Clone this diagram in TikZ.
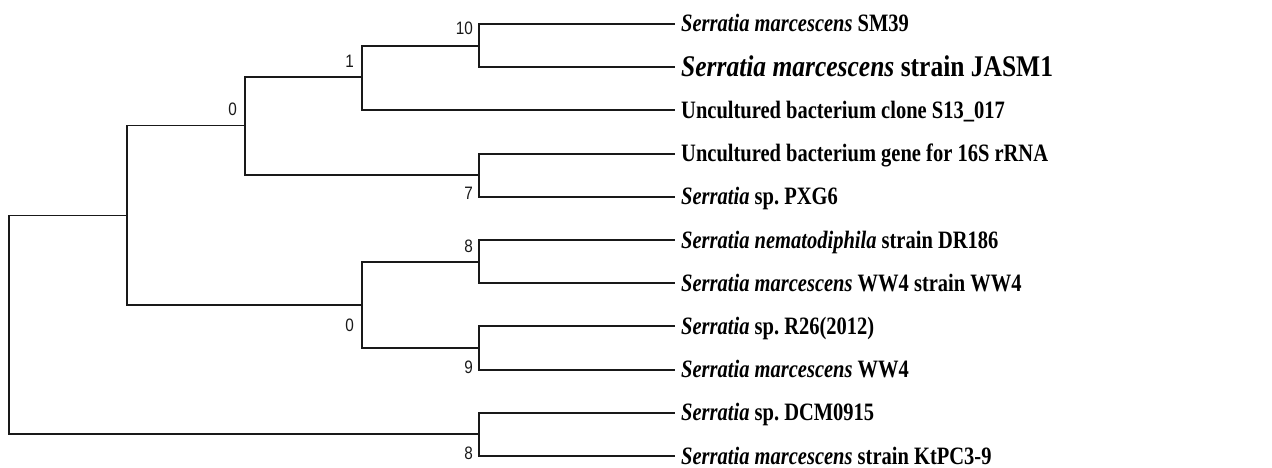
\documentclass[tikz,border=0pt]{standalone}
\usepackage{fontspec}
\newfontfamily\leaffont{Liberation Serif}[FakeStretch=0.82]
\newfontfamily\bigleaffont{Liberation Serif}[FakeStretch=0.85]
\newfontfamily\numfont{Liberation Sans}[FakeStretch=0.85]
\frenchspacing
\begin{document}
\begin{tikzpicture}[x=1pt,y=-1pt,
  branch/.style={line width=1.9pt, line join=miter, black!90},
  leaftext/.style={anchor=west, inner xsep=6pt, inner ysep=0pt, text height=16pt, text depth=0pt,
    font=\leaffont\bfseries\fontsize{25}{27}\selectfont\frenchspacing},
  bigleaf/.style={leaftext, text height=19.5pt, font=\bigleaffont\bfseries\fontsize{30}{32}\selectfont\frenchspacing},
  lab/.style={anchor=east, inner sep=0pt, font=\numfont\fontsize{18}{20}\selectfont, black!90}]
\useasboundingbox[fill=white] (0,0) rectangle (1272,468);
% internal nodes
\coordinate (R)   at (9,325.5);
\coordinate (A)   at (127,215.5);
\coordinate (B1)  at (245,125.5);
\coordinate (B2)  at (362,305);
\coordinate (N1)  at (362,77);
\coordinate (N10) at (479,45.6);
\coordinate (N7)  at (479,175.2);
\coordinate (N8a) at (479,261.6);
\coordinate (N9)  at (479,348);
\coordinate (N8b) at (479,434.4);
% leaves
\node[leaftext] (t1)  at (675,24)    {\itshape Serratia marcescens\/ \upshape SM39};
\node[bigleaf]  (t2)  at (675,67.2)  {\itshape Serratia marcescens\/ \upshape strain JASM1};
\node[leaftext] (t3)  at (675,110.4) {Uncultured bacterium clone S13\_017};
\node[leaftext] (t4)  at (675,153.6) {Uncultured bacterium gene for 16S rRNA};
\node[leaftext] (t5)  at (675,196.8) {\itshape Serratia\/ \upshape sp.\ PXG6};
\node[leaftext] (t6)  at (675,240)   {\itshape Serratia nematodiphila\/ \upshape strain DR186};
\node[leaftext] (t7)  at (675,283.2) {\itshape Serratia marcescens\/ \upshape WW4 strain WW4};
\node[leaftext] (t8)  at (675,326.4) {\itshape Serratia\/ \upshape sp.\ R26(2012)};
\node[leaftext] (t9)  at (675,369.6) {\itshape Serratia marcescens\/ \upshape WW4};
\node[leaftext] (t10) at (675,412.8) {\itshape Serratia\/ \upshape sp.\ DCM0915};
\node[leaftext] (t11) at (675,456)   {\itshape Serratia marcescens\/ \upshape strain KtPC3-9};
% branches
\draw[branch] (R) |- (A);
\draw[branch] (R) |- (N8b);
\draw[branch] (A) |- (B1);
\draw[branch] (A) |- (B2);
\draw[branch] (B1) |- (N1);
\draw[branch] (B1) |- (N7);
\draw[branch] (N1) |- (N10);
\draw[branch] (N1) |- (t3.west);
\draw[branch] (N10) |- (t1.west);
\draw[branch] (N10) |- (t2.west);
\draw[branch] (N7) |- (t4.west);
\draw[branch] (N7) |- (t5.west);
\draw[branch] (B2) |- (N8a);
\draw[branch] (B2) |- (N9);
\draw[branch] (N8a) |- (t6.west);
\draw[branch] (N8a) |- (t7.west);
\draw[branch] (N9) |- (t8.west);
\draw[branch] (N9) |- (t9.west);
\draw[branch] (N8b) |- (t10.west);
\draw[branch] (N8b) |- (t11.west);
% bootstrap labels
\node[lab] (l10)  at (473,28)  {10};
\node[lab] (l1)   at (354,61)  {1};
\node[lab] (l0a)  at (237,109) {0};
\node[lab] (l7)   at (473,193) {7};
\node[lab] (l8a)  at (473,246) {8};
\node[lab] (l0b)  at (354,325) {0};
\node[lab] (l9)   at (473,367) {9};
\node[lab] (l8b)  at (473,453) {8};
\end{tikzpicture}
\end{document}
